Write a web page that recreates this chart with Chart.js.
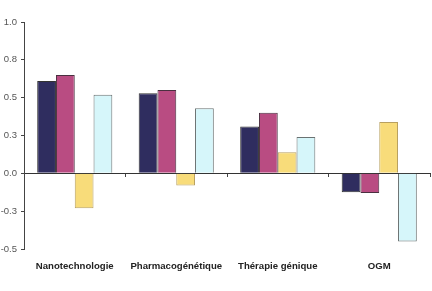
<!DOCTYPE html>
<html>
<head>
<meta charset="utf-8">
<script src="https://cdn.jsdelivr.net/npm/chart.js@4.4.0/dist/chart.umd.min.js"></script>
<style>
html,body{margin:0;padding:0;background:#fff;}
#wrap{width:432px;height:291px;position:relative;}
</style>
</head>
<body>
<div id="wrap"><canvas id="c" width="432" height="291"></canvas></div>
<script>
const categories = ['Nanotechnologie', 'Pharmacogénétique', 'Thérapie génique', 'OGM'];
const seriesA = [0.61, 0.53, 0.31, -0.125];
const seriesB = [0.65, 0.55, 0.40, -0.13];
const seriesC = [-0.23, -0.08, 0.14, 0.34];
const seriesD = [0.52, 0.43, 0.24, -0.45];
const yTickValues = [-0.5, -0.25, 0, 0.25, 0.5, 0.75, 1.0];
const yTickLabels = ['-0.5', '-0.3', '0.0', '0.3', '0.5', '0.8', '1.0'];

const colors = ['#2f2d5f', '#b94c82', '#f8dc7a', '#d6f6fa'];
const borders = ['#333333', '#4a3040', '#b8a060', '#6a7272'];

Chart.defaults.font.family = 'Arial, "Liberation Sans", sans-serif';

new Chart(document.getElementById('c'), {
  type: 'bar',
  data: {
    labels: categories,
    datasets: [seriesA, seriesB, seriesC, seriesD].map((d, i) => ({
      data: d,
      backgroundColor: colors[i],
      borderColor: borders[i],
      borderWidth: 1,
      categoryPercentage: 0.74,
      barPercentage: 1.0
    }))
  },
  options: {
    responsive: false,
    animation: false,
    layout: { padding: { top: 22, right: 2, left: 0, bottom: 0 } },
    plugins: { legend: { display: false }, tooltip: { enabled: false } },
    scales: {
      x: {
        position: 'bottom',
        grid: { display: false },
        border: { display: false },
        ticks: { color: '#222', font: { size: 9.6, weight: 'bold' }, padding: 4, maxRotation: 0, autoSkip: false },
        afterFit: (s) => { s.height = 42; }
      },
      x2: {
        type: 'category',
        position: { y: 0 },
        grid: { drawOnChartArea: false, drawTicks: true, tickLength: 3, color: '#444', offset: true },
        border: { display: true, color: '#333', width: 1 },
        ticks: { display: false }
      },
      y: {
        min: -0.5,
        max: 1.0,
        afterBuildTicks: (s) => { s.ticks = yTickValues.map(v => ({ value: v })); },
        grid: { drawOnChartArea: false, drawTicks: true, tickLength: 3, color: '#444' },
        border: { display: true, color: '#444', width: 1 },
        ticks: {
          color: '#555',
          font: { size: 9.5 },
          padding: 4,
          callback: (v) => { const i = yTickValues.indexOf(v); return i >= 0 ? yTickLabels[i] : ''; }
        },
        afterFit: (s) => { s.width = 24; }
      }
    }
  }
});
</script>
</body>
</html>
